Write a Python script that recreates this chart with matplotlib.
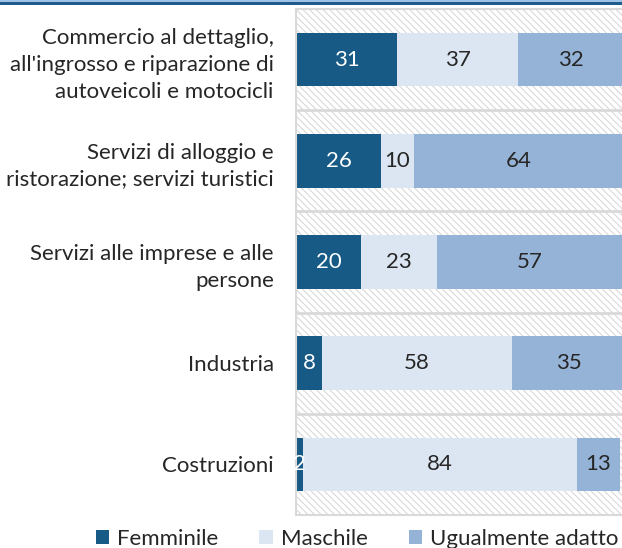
import matplotlib
matplotlib.use("Agg")
import matplotlib.pyplot as plt
from matplotlib.patches import Rectangle
import numpy as np

categories = [
    "Commercio al dettaglio,\nall'ingrosso e riparazione di\nautoveicoli e motocicli",
    "Servizi di alloggio e\nristorazione; servizi turistici",
    "Servizi alle imprese e alle\npersone",
    "Industria",
    "Costruzioni",
]
femminile = [31, 26, 20, 8, 2]
maschile = [37, 10, 23, 58, 84]
ugualmente = [32, 64, 57, 35, 13]
series_names = ["Femminile", "Maschile", "Ugualmente adatto"]

colors = ["#165A85", "#DCE6F2", "#95B3D7"]
text_colors = ["white", "#262626", "#262626"]

plt.rcParams['font.family'] = ['Lato', 'DejaVu Sans']
plt.rcParams['hatch.linewidth'] = 0.8

FS = 16

fig = plt.figure(figsize=(6.22, 5.48), dpi=100)
ax = fig.add_axes([296/622, 33/548, 327/622, 506/548])

# hatched background
bg = Rectangle((0, 0), 1, 1, transform=ax.transAxes, facecolor="white",
               edgecolor="#d9d9d9", hatch="\\\\\\\\\\", linewidth=0, zorder=0)
ax.add_patch(bg)

y = np.arange(len(categories))
left = np.zeros(len(categories))
data = [femminile, maschile, ugualmente]
for vals, c, tc, name in zip(data, colors, text_colors, series_names):
    vals = np.array(vals, dtype=float)
    ax.barh(y, vals, left=left, height=0.53, color=c, edgecolor="none",
            label=name, zorder=2)
    for yi, (l, v) in enumerate(zip(left, vals)):
        ax.text(l + v/2, yi, f"{int(v)}", ha="center", va="center",
                color=tc, fontsize=FS, zorder=3)
    left += vals

# separators
for b in np.arange(0.5, len(categories) - 0.5, 1):
    ax.axhline(b, color="#d9d9d9", linewidth=2, zorder=1)

ax.set_xlim(0, 100)
ax.set_ylim(len(categories) - 0.5, -0.5)
ax.set_xticks([])
ax.set_yticks(y)
ax.set_yticklabels(categories, fontsize=FS, color="#262626", linespacing=1.42)
ax.tick_params(axis="y", length=0, pad=16)
for s in ["top", "bottom", "left", "right"]:
    ax.spines[s].set_color("#d9d9d9")
    ax.spines[s].set_linewidth(1.5)
ax.spines["right"].set_visible(False)

# top decorative lines
fig.add_artist(Rectangle((0, 1 - 1.5/548), 1, 1.5/548, transform=fig.transFigure,
                         facecolor="#9DC3E6", edgecolor="none"))
fig.add_artist(Rectangle((0, 1 - 5/548), 1, 3/548, transform=fig.transFigure,
                         facecolor="#1F5C8B", edgecolor="none"))

handles = [Rectangle((0, 0), 1, 1, facecolor=c, edgecolor="none") for c in colors]
fig.legend(handles, series_names, loc="center", bbox_to_anchor=(357/622, 9/548),
           ncol=3, frameon=False, fontsize=FS, handlelength=0.6, handleheight=0.6,
           handletextpad=0.35, columnspacing=1.85, labelcolor="#262626",
           borderaxespad=0, borderpad=0)

fig.savefig("out.png", dpi=100)
